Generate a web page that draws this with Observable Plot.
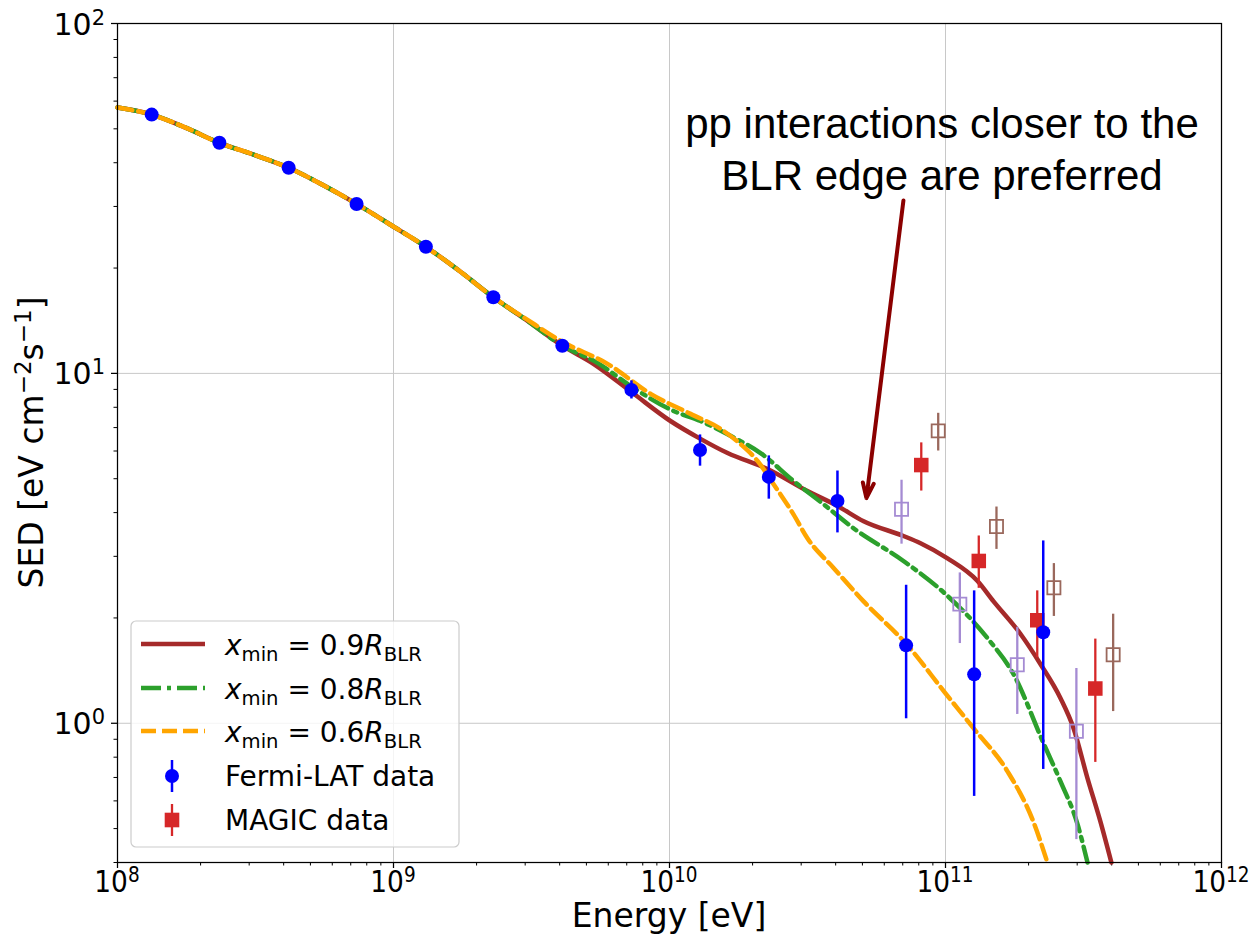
<!DOCTYPE html>
<html><head><meta charset="utf-8">
<script src="https://cdn.jsdelivr.net/npm/d3@7"></script>
<script src="https://cdn.jsdelivr.net/npm/@observablehq/plot@0.6"></script>
<style>body{margin:0;background:#fff}</style>
</head><body><div id="chart"></div>
<script>
// ---------- data ----------
const fermiE  = [1.33e8, 2.34e8, 4.17e8, 7.35e8, 1.31e9, 2.30e9, 4.09e9, 7.28e9, 1.29e10, 2.29e10, 4.06e10, 7.2e10, 1.27e11, 2.26e11];
const fermiS  = [54.9, 45.6, 38.7, 30.5, 23.0, 16.5, 12.0, 8.97, 6.04, 5.06, 4.32, 1.67, 1.38, 1.82];
const fermiLo = [53.5, 44.4, 37.6, 29.6, 22.3, 16.0, 11.6, 8.45, 5.43, 4.37, 3.50, 1.03, 0.618, 0.738];
const fermiHi = [56.3, 46.8, 39.8, 31.4, 23.7, 17.0, 12.4, 9.52, 6.67, 5.81, 5.26, 2.48, 2.39, 3.32];

const magicE  = [8.17e10, 1.32e11, 2.15e11, 3.49e11];
const magicS  = [5.47, 2.91, 1.97, 1.257];
const magicLo = [4.61, 2.43, 1.54, 0.773];
const magicHi = [6.33, 3.43, 2.39, 1.74];

const purpleE  = [6.93e10, 1.127e11, 1.82e11, 2.98e11];
const purpleS  = [4.09, 2.19, 1.47, 0.949];
const purpleLo = [3.25, 1.69, 1.06, 0.465];
const purpleHi = [4.95, 2.69, 1.88, 1.434];

const brownE  = [9.41e10, 1.53e11, 2.47e11, 4.05e11];
const brownS  = [6.85, 3.65, 2.44, 1.57];
const brownLo = [6.00, 3.14, 2.02, 1.08];
const brownHi = [7.69, 4.15, 2.86, 2.05];

// model curves: common low-energy part
const commonE = [1e8, 1.33e8, 1.764e8, 2.34e8, 3.11e8, 4.17e8, 5.53e8, 7.35e8, 9.75e8, 1.31e9, 1.73e9, 2.30e9, 3.06e9];
const commonS = [57.5, 54.9, 50.4, 45.6, 42.2, 38.7, 34.6, 30.5, 26.6, 23.0, 19.65, 16.5, 14.13];
// x_min = 0.9 R_BLR
const redE = [4.09e9, 5.30e9, 7.34e9, 1.008e10, 1.295e10, 1.623e10, 2.265e10, 3.16e10, 4.06e10, 5.05e10, 7.04e10, 8.12e10, 1.017e11, 1.306e11, 1.493e11, 1.87e11, 2.21e11, 2.61e11, 2.91e11, 3.27e11, 3.64e11, 3.99e11];
const redS = [12.0, 10.65, 8.80, 7.31, 6.50, 5.92, 5.33, 4.61, 4.18, 3.78, 3.43, 3.27, 2.96, 2.55, 2.23, 1.80, 1.475, 1.179, 0.968, 0.696, 0.524, 0.40];
// x_min = 0.8 R_BLR
const greenE = [4.09e9, 5.48e9, 7.22e9, 1.034e10, 1.295e10, 1.663e10, 2.137e10, 2.81e10, 3.61e10, 4.64e10, 7.04e10, 1.0e11, 1.42e11, 1.764e11, 2.265e11, 2.61e11, 3.01e11, 3.27e11];
const greenS = [12.0, 10.72, 9.21, 7.81, 7.31, 6.63, 5.92, 4.93, 4.23, 3.61, 2.91, 2.34, 1.75, 1.381, 0.877, 0.682, 0.514, 0.40];
// x_min = 0.6 R_BLR
const orangeE = [3.06e9, 4.09e9, 5.96e9, 8.54e9, 1.192e10, 1.53e10, 1.808e10, 2.084e10, 2.38e10, 2.81e10, 3.16e10, 3.93e10, 5.05e10, 7.22e10, 1.0e11, 1.263e11, 1.677e11, 2.08e11, 2.34e11];
const orangeS = [14.22, 12.31, 10.65, 8.74, 7.66, 6.94, 6.28, 5.62, 4.83, 3.96, 3.38, 2.78, 2.23, 1.683, 1.218, 0.968, 0.729, 0.524, 0.40];

const seriesLabels = ["0.9", "0.8", "0.6"];
const xTickExp = [8, 9, 10, 11, 12];
const yTickExp = [0, 1, 2];
const annotText = "pp interactions closer to the\nBLR edge are preferred";
const annotPos = {E: 9.71e10, S: 33.5};
const arrowPos = {E1: 7.04e10, S1: 31.2, E2: 5.17e10, S2: 4.40};

// ---------- tables ----------
const pts = (E, S, lo, hi) => E.map((e, i) => ({E: e, S: S[i], lo: lo[i], hi: hi[i]}));
const fermi = pts(fermiE, fermiS, fermiLo, fermiHi);
const magic = pts(magicE, magicS, magicLo, magicHi);
const purple = pts(purpleE, purpleS, purpleLo, purpleHi);
const brown = pts(brownE, brownS, brownLo, brownHi);
const ln = (E, S) => E.map((e, i) => ({E: e, S: S[i]}));
const red = ln(commonE.concat(redE), commonS.concat(redS));
const green = ln(commonE.concat(greenE), commonS.concat(greenS));
const orange = ln(commonE.slice(0, -1).concat(orangeE), commonS.slice(0, -1).concat(orangeS));

const xMajor = xTickExp.map(e => Math.pow(10, e));
const yMajor = yTickExp.map(e => Math.pow(10, e));
const xMinor = [], yMinor = [];
for (let d = 8; d < 12; d++) for (let k = 2; k <= 9; k++) xMinor.push(k * Math.pow(10, d));
for (let d = -1; d < 2; d++) for (let k = 2; k <= 9; k++) { const v = k * Math.pow(10, d); if (v >= 0.4) yMinor.push(v); }

const C = {red: "#a52a2a", green: "#2ca02c", orange: "#ffa500", fermi: "#0000ff", magic: "#d62728", purple: "#a58bd3", brown: "#9a685c", arrow: "#8b0000"};
const LW = 4.5;
const DASH_G = "20,6,4,6", DASH_O = "15,6";

const plot = Plot.plot({
  width: 1257, height: 936,
  marginLeft: 117, marginRight: 36, marginTop: 23, marginBottom: 74,
  x: {type: "log", domain: [1e8, 1e12], label: null},
  y: {type: "log", domain: [0.4, 100], label: null},
  style: {fontFamily: "DejaVu Sans", fontSize: "28px", background: "white", color: "black", overflow: "visible"},
  marks: [
    Plot.gridX([1e9, 1e10, 1e11], {stroke: "#c8c8c8", strokeOpacity: 1, strokeWidth: 1}),
    Plot.gridY([1, 10], {stroke: "#c8c8c8", strokeOpacity: 1, strokeWidth: 1}),
    Plot.axisX(xMinor, {tickSize: 3.5, tickFormat: () => "", label: null, strokeWidth: 1}),
    Plot.axisX(xMajor, {tickSize: 6, tickFormat: () => "", label: null, strokeWidth: 1.25}),
    Plot.axisY(yMinor, {tickSize: 3.5, tickFormat: () => "", label: null, strokeWidth: 1}),
    Plot.axisY(yMajor, {tickSize: 6, tickFormat: () => "", label: null, strokeWidth: 1.25}),
    Plot.line(red, {x: "E", y: "S", stroke: C.red, strokeWidth: LW, curve: "monotone-x"}),
    Plot.line(green, {x: "E", y: "S", stroke: C.green, strokeWidth: LW, strokeDasharray: DASH_G, curve: "monotone-x"}),
    Plot.line(orange, {x: "E", y: "S", stroke: C.orange, strokeWidth: LW, strokeDasharray: DASH_O, curve: "monotone-x"}),
    Plot.ruleX(purple, {x: "E", y1: "lo", y2: "hi", stroke: C.purple, strokeWidth: 2.3}),
    Plot.dot(purple, {x: "E", y: "S", symbol: "square", r: 7.4, stroke: C.purple, fill: "none", strokeWidth: 1.8}),
    Plot.ruleX(brown, {x: "E", y1: "lo", y2: "hi", stroke: C.brown, strokeWidth: 2.3}),
    Plot.dot(brown, {x: "E", y: "S", symbol: "square", r: 7.4, stroke: C.brown, fill: "none", strokeWidth: 1.8}),
    Plot.ruleX(magic, {x: "E", y1: "lo", y2: "hi", stroke: C.magic, strokeWidth: 2.3}),
    Plot.dot(magic, {x: "E", y: "S", symbol: "square", r: 8.2, fill: C.magic}),
    Plot.ruleX(fermi, {x: "E", y1: "lo", y2: "hi", stroke: C.fermi, strokeWidth: 2.5}),
    Plot.dot(fermi, {x: "E", y: "S", r: 7, fill: C.fermi}),
    Plot.arrow([arrowPos], {x1: "E1", y1: "S1", x2: "E2", y2: "S2", stroke: C.arrow, strokeWidth: 4, headLength: 6, headAngle: 40}),
    Plot.text([annotPos], {x: "E", y: "S", text: () => annotText, fontFamily: "Liberation Sans", fontSize: 42, lineHeight: 1.22, lineAnchor: "bottom", textAnchor: "middle", fill: "black"}),
    Plot.frame({stroke: "black", strokeWidth: 1.25})
  ]
});

const svg = d3.select(plot);
const xs = plot.scale("x"), ys = plot.scale("y");
const X = d3.scaleLog(xs.domain, xs.range), Y = d3.scaleLog(ys.domain, ys.range);
const g = svg.append("g").attr("font-family", "DejaVu Sans").attr("fill", "black");

// x tick labels
xTickExp.forEach(e => {
  const t = g.append("g").attr("transform", `translate(${X(Math.pow(10, e))},892) scale(0.88,1)`)
    .append("text").attr("text-anchor", "middle").attr("font-size", 30);
  t.append("tspan").text("10");
  t.append("tspan").attr("font-size", 21).attr("dy", -10).text(String(e));
});
// y tick labels
yTickExp.forEach(e => {
  const t = g.append("text").attr("x", 105).attr("y", Y(Math.pow(10, e)) + 11.5)
    .attr("text-anchor", "end").attr("font-size", 30);
  t.append("tspan").text("10");
  t.append("tspan").attr("font-size", 21).attr("dy", -10).text(String(e));
});
// axis labels
g.append("text").attr("x", (X.range()[0] + X.range()[1]) / 2).attr("y", 927)
  .attr("text-anchor", "middle").attr("font-size", 33).text("Energy [eV]");
{
  const cy = (Y.range()[0] + Y.range()[1]) / 2;
  const t = g.append("text").attr("transform", `translate(43,${cy}) rotate(-90)`)
    .attr("text-anchor", "middle").attr("font-size", 33);
  t.append("tspan").text("SED [eV cm");
  t.append("tspan").attr("font-size", 23).attr("dy", -12).text("\u22122");
  t.append("tspan").attr("dy", 12).text("s");
  t.append("tspan").attr("font-size", 23).attr("dy", -12).text("\u22121");
  t.append("tspan").attr("dy", 12).text("]");
}

// legend
const L = svg.append("g").attr("font-family", "DejaVu Sans").attr("text-anchor", "start");
L.append("rect").attr("x", 131).attr("y", 621).attr("width", 328).attr("height", 226).attr("rx", 5)
  .attr("fill", "white").attr("fill-opacity", 0.8).attr("stroke", "#cccccc").attr("stroke-width", 1.2);
const rows = [644, 688, 731, 776, 820];
const lineStyles = [[C.red, null], [C.green, DASH_G], [C.orange, DASH_O]];
lineStyles.forEach(([col, dash], i) => {
  const l = L.append("line").attr("x1", 141).attr("x2", 205).attr("y1", rows[i]).attr("y2", rows[i])
    .attr("stroke", col).attr("stroke-width", LW);
  if (dash) l.attr("stroke-dasharray", dash);
  const t = L.append("text").attr("x", 225).attr("y", rows[i] + 11).attr("font-size", 28).attr("fill", "black").attr("text-anchor", "start");
  t.append("tspan").attr("font-style", "italic").text("x");
  t.append("tspan").attr("font-size", 19.6).attr("dy", 6).text("min");
  t.append("tspan").attr("dy", -6).text(" = " + seriesLabels[i]);
  t.append("tspan").attr("font-style", "italic").text("R");
  t.append("tspan").attr("font-size", 19.6).attr("dy", 6).text("BLR");
});
L.append("line").attr("x1", 172).attr("x2", 172).attr("y1", rows[3] - 16).attr("y2", rows[3] + 16).attr("stroke", C.fermi).attr("stroke-width", 2.5);
L.append("circle").attr("cx", 172).attr("cy", rows[3]).attr("r", 7).attr("fill", C.fermi);
L.append("text").attr("x", 225).attr("y", rows[3] + 10).attr("font-size", 28).attr("fill", "black").attr("text-anchor", "start").text("Fermi-LAT data");
L.append("line").attr("x1", 172).attr("x2", 172).attr("y1", rows[4] - 16).attr("y2", rows[4] + 16).attr("stroke", C.magic).attr("stroke-width", 2.3);
L.append("rect").attr("x", 172 - 7.3).attr("y", rows[4] - 7.3).attr("width", 14.6).attr("height", 14.6).attr("fill", C.magic);
L.append("text").attr("x", 225).attr("y", rows[4] + 10).attr("font-size", 28).attr("fill", "black").attr("text-anchor", "start").text("MAGIC data");

document.getElementById("chart").appendChild(plot);
</script>
</body></html>
